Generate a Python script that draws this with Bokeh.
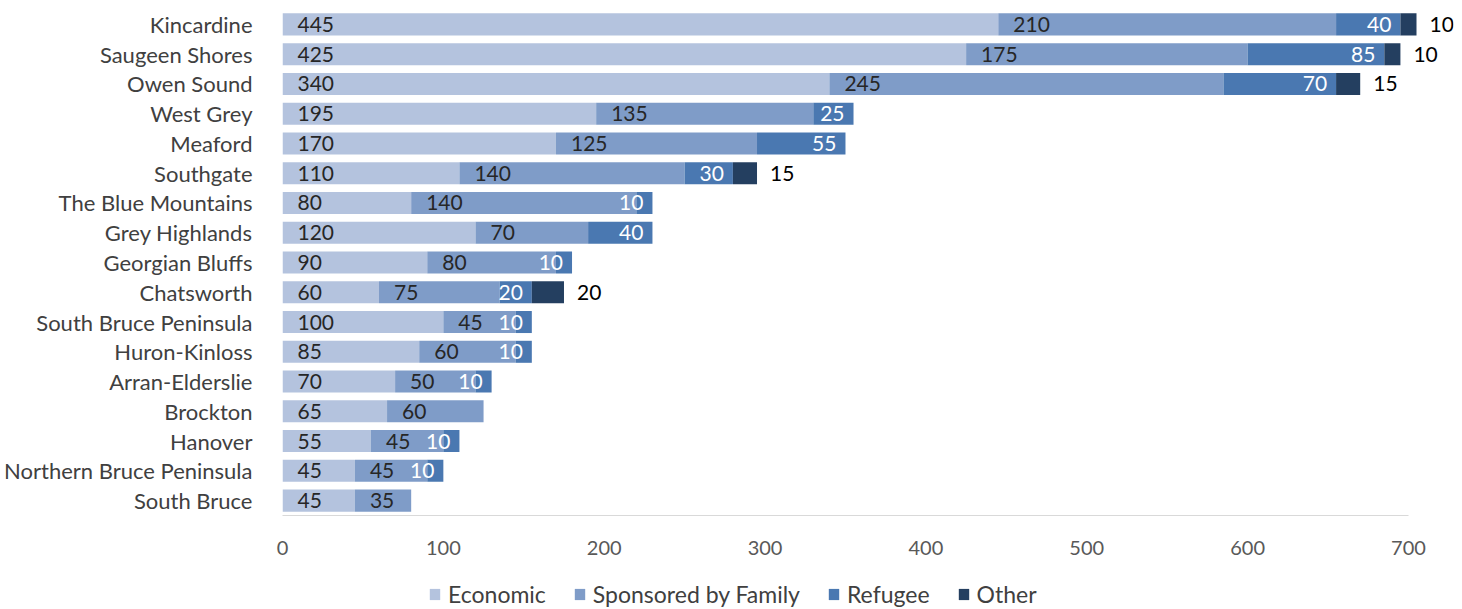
import numpy as np
from bokeh.plotting import figure
from bokeh.layouts import column
from bokeh.models import ColumnDataSource, FactorRange, Range1d, FixedTicker, Legend, LegendItem
from bokeh.embed import file_html
from bokeh.resources import INLINE
from bokeh.core.properties import value

categories = ["Kincardine", "Saugeen Shores", "Owen Sound", "West Grey", "Meaford",
              "Southgate", "The Blue Mountains", "Grey Highlands", "Georgian Bluffs",
              "Chatsworth", "South Bruce Peninsula", "Huron-Kinloss", "Arran-Elderslie",
              "Brockton", "Hanover", "Northern Bruce Peninsula", "South Bruce"]
economic = [445, 425, 340, 195, 170, 110, 80, 120, 90, 60, 100, 85, 70, 65, 55, 45, 45]
family = [210, 175, 245, 135, 125, 140, 140, 70, 80, 75, 45, 60, 50, 60, 45, 45, 35]
refugee = [40, 85, 70, 25, 55, 30, 10, 40, 10, 20, 10, 10, 10, 0, 10, 10, 0]
other = [10, 10, 15, 0, 0, 15, 0, 0, 0, 20, 0, 0, 0, 0, 0, 0, 0]
series = ["Economic", "Sponsored by Family", "Refugee", "Other"]
colors = ["#B4C3DE", "#7F9CC8", "#4A78B1", "#243F60"]
x_ticks = [0, 100, 200, 300, 400, 500, 600, 700]

FONT = "Lato"
FS = "21px"

p = figure(frame_width=1171, frame_height=506,
           y_range=FactorRange(factors=categories[::-1]),
           x_range=Range1d(0, 728),
           output_backend="svg", toolbar_location=None,
           min_border_left=282, min_border_right=1, min_border_top=9,
           min_border_bottom=50)
p.outline_line_color = None
p.xgrid.visible = False
p.ygrid.visible = False

src = ColumnDataSource(dict(cat=categories, Economic=economic,
                            **{"Sponsored by Family": family},
                            Refugee=refugee, Other=other))
rs = p.hbar_stack(series, y="cat", height=0.74, fill_color=colors,
                  line_color=None, source=src)

e = np.array(economic)
f = np.array(family)
r = np.array(refugee)
o = np.array(other)

common = dict(text_baseline="middle", text_font=value(FONT), text_font_size=FS)

p.text(x=np.zeros(len(e)), y=categories, text=[str(v) for v in e],
       x_offset=15, text_align="left", text_color="#262626", **common)
p.text(x=e, y=categories, text=[str(v) for v in f],
       x_offset=15, text_align="left", text_color="#262626", **common)
mask_r = r > 0
p.text(x=(e + f + r)[mask_r], y=[c for c, m in zip(categories, mask_r) if m],
       text=[str(v) for v in r[mask_r]],
       x_offset=-9, text_align="right", text_color="#FFFFFF", **common)
mask_o = o > 0
p.text(x=(e + f + r + o)[mask_o], y=[c for c, m in zip(categories, mask_o) if m],
       text=[str(v) for v in o[mask_o]],
       x_offset=13, text_align="left", text_color="#000000", **common)

xa = p.xaxis[0]
xa.ticker = FixedTicker(ticks=x_ticks)
xa.bounds = (0, 700)
xa.axis_line_color = "#D9D9D9"
xa.major_tick_line_color = None
xa.minor_tick_line_color = None
xa.major_label_standoff = 19
xa.major_label_text_font = FONT
xa.major_label_text_font_size = "20px"
xa.major_label_text_color = "#595959"

ya = p.yaxis[0]
ya.axis_line_color = None
ya.major_tick_line_color = None
ya.minor_tick_line_color = None
ya.major_label_standoff = 24
ya.major_label_text_font = FONT
ya.major_label_text_font_size = "22px"
ya.major_label_text_color = "#404040"

# Legend strip below the chart (handles sit outside the strip's visible range)
p2 = figure(width=1454, height=44, x_range=Range1d(0, 1), y_range=Range1d(0, 1),
            output_backend="svg", toolbar_location=None,
            x_axis_location=None, y_axis_location=None,
            min_border_left=0, min_border_right=0, min_border_top=0, min_border_bottom=0)
p2.outline_line_color = None
p2.xgrid.visible = False
p2.ygrid.visible = False
handles = [p2.hbar(y=[-5], left=[-5], right=[-4], height=0.5, fill_color=c, line_color=None)
           for c in colors]

legend = Legend(items=[LegendItem(label=s, renderers=[rr]) for s, rr in zip(series, handles)],
                orientation="horizontal", location=(146, 1),
                glyph_width=13, glyph_height=14, label_standoff=7, spacing=27,
                label_text_font=FONT, label_text_font_size="23px",
                label_text_color="#404040", border_line_color=None,
                background_fill_alpha=0, padding=2, margin=0)
p2.add_layout(legend, "center")

layout = column(p, p2, spacing=0)
open("out.html", "w").write(file_html(layout, INLINE))
